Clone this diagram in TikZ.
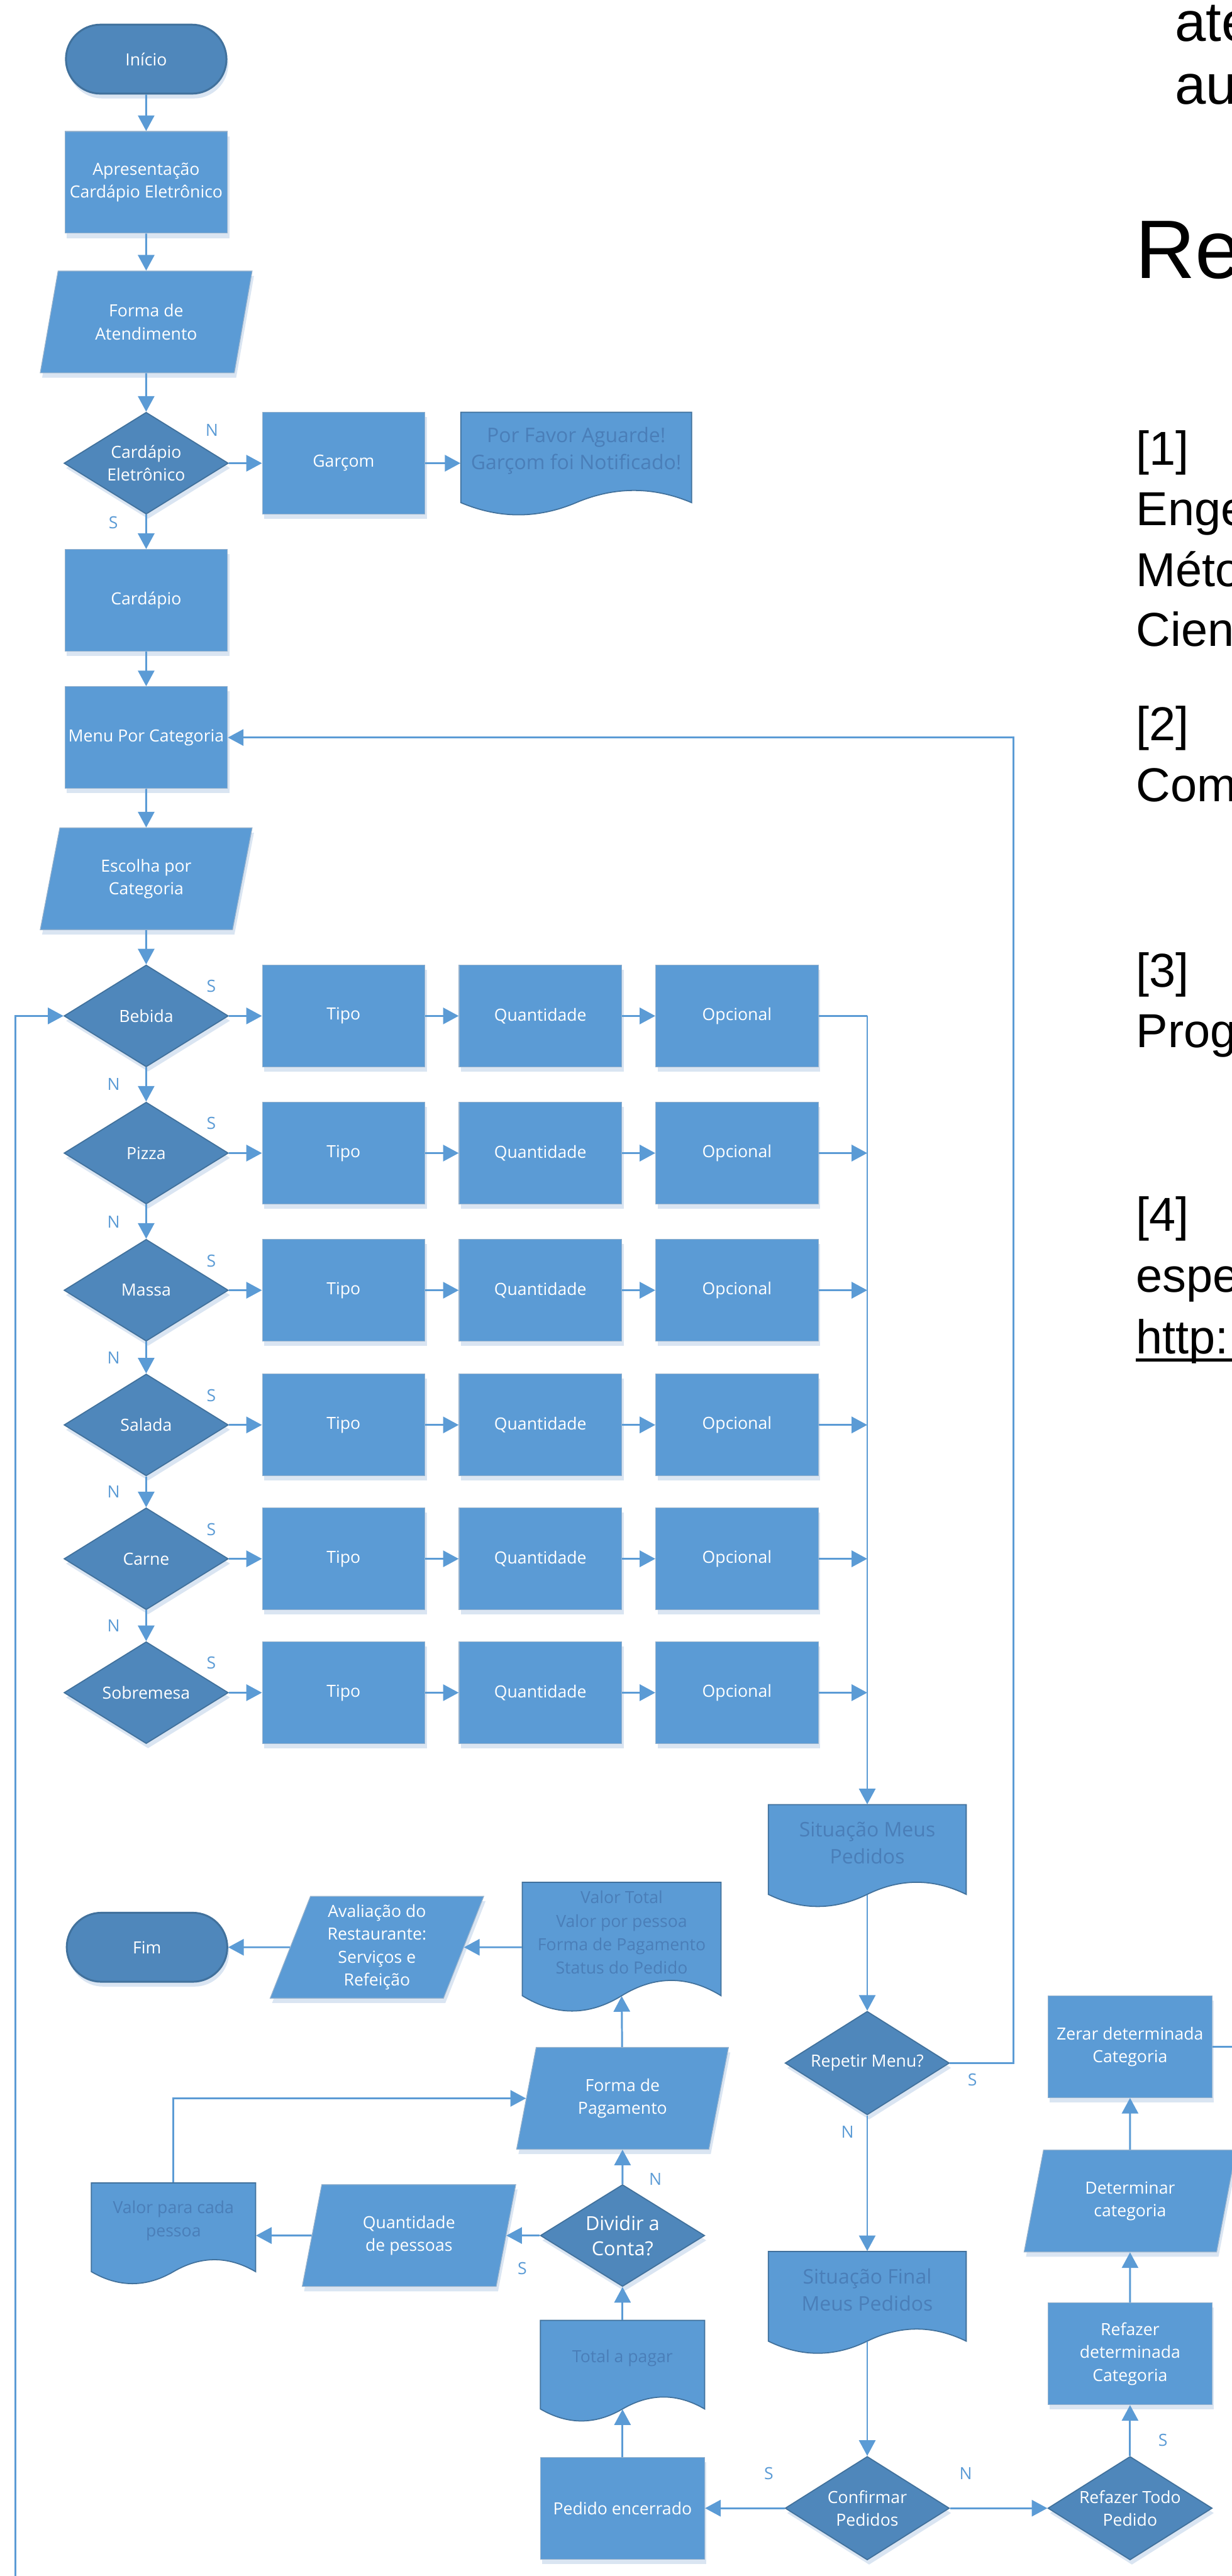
\documentclass[tikz,border=0pt]{standalone}
\usepackage{fontspec}
\setmainfont{Open Sans}
\newfontfamily\refsfont{Liberation Sans}
\usetikzlibrary{shapes.geometric,shapes.misc,shadows,arrows.meta}
\tikzset{>={Triangle[length=8.4pt,width=8.8pt]}}
\definecolor{procfill}{RGB}{91,155,213}
\definecolor{decfill}{RGB}{79,135,187}
\definecolor{decedge}{RGB}{65,113,156}
\definecolor{procedge}{RGB}{150,178,205}
\definecolor{shadowcol}{RGB}{218,229,242}
\definecolor{doctxt}{RGB}{74,126,184}
\colorlet{flowcol}{procfill}
\def\pxu{0.8828pt}
\tikzstyle{flow}=[->,flowcol,line width=1pt]
\tikzstyle{wire}=[flowcol,line width=1pt]
\tikzstyle{yesno}=[flowcol,font=\fontsize{9}{11}\selectfont,inner sep=0pt]
\tikzset{
  shapebase/.style={text=white,align=center,inner sep=1pt,
                    font=\fontsize{9}{12.3}\selectfont,
                    general shadow={fill=shadowcol,shadow xshift=1pt,shadow yshift=-2.6pt}},
  proc/.style={shapebase,rectangle,fill=procfill,draw=procedge,line width=0.4pt,
               minimum width=99*\pxu,minimum height=62*\pxu},
  io/.style={shapebase,trapezium,trapezium left angle=65.7,trapezium right angle=114.3,
             trapezium stretches body,fill=procfill,draw=procedge,line width=0.4pt,
             minimum width=129*\pxu,minimum height=62*\pxu},
  decision/.style={shapebase,diamond,aspect=1.6,inner sep=0pt,fill=decfill,draw=decedge,
                   line width=0.6pt,minimum width=100*\pxu,minimum height=62*\pxu},
  term/.style={shapebase,rounded rectangle,fill=decfill,draw=decedge,line width=1pt,
               minimum width=100*\pxu,minimum height=42*\pxu},
  doctext/.style={text=doctxt,align=center,inner sep=0pt,font=\fontsize{9}{12.6}\selectfont},
  docbig/.style={doctext,font=\fontsize{10.8}{14.5}\selectfont},
  refs/.style={anchor=base west,inner sep=0pt,text=black,font=\refsfont\fontsize{25.6}{30}\selectfont}
}
% document shape: name, x, y, width, side height, text style, text
\newcommand{\docnode}[7]{%
  \filldraw[fill=procfill,draw=decedge,line width=0.6pt,shift={(#2,#3)}]
    ({-#4/2},{-#5/2}) -- ({#4/2},{-#5/2}) -- ({#4/2},{#5/2})
    .. controls ({#4/3},{0.32*#5}) and ({#4/6},{0.32*#5}) .. (0,{#5/2})
    .. controls ({-#4/6},{0.68*#5}) and ({-#4/3},{0.68*#5}) .. ({-#4/2},{#5/2}) -- cycle;
  \node[rectangle,inner sep=0pt,minimum width=#4*\pxu,minimum height=#5*\pxu] (#1) at (#2,#3) {};
  \node[#6] (#1txt) at (#2,#3-4) {#7};
}

\begin{document}
\begin{tikzpicture}[x=\pxu,y=-\pxu]
  \def\xa{89}
  \def\xt{209.2}
  \def\xq{329}
  \def\xo{448.7}
  \def\xc{528}
  \def\xp{379}
  \def\xr{688}
  \useasboundingbox (0,0) rectangle (750,1568.3);
  \clip (0,0) rectangle (750,1568.3);

  % START
  \node[term] (inicio) at (\xa,36) {Início};
  \node[proc] (apres) at (\xa,111) {Apresentação\\Cardápio Eletrônico};
  \node[io] (formaAt) at (\xa,196) {Forma de\\Atendimento};
  \node[decision] (cardEl) at (\xa,282) {Cardápio\\Eletrônico};
  \node[proc] (garcom) at (\xt,282) {Garçom};
  \docnode{aguarde}{350.8}{278.5}{140.5}{55}{docbig}{Por Favor Aguarde!\\Garçom foi Notificado!}
  \node[proc] (cardapio) at (\xa,365.5) {Cardápio};
  \node[proc] (menu) at (\xa,449) {Menu Por Categoria};
  \node[io] (escolha) at (\xa,535) {Escolha por\\Categoria};

  \draw[flow] (inicio) -- (apres);
  \draw[flow] (apres) -- (formaAt);
  \draw[flow] (formaAt) -- (cardEl);
  \draw[flow] (cardEl) -- (garcom);
  \draw[flow] (garcom) -- (garcom -| aguarde.west);
  \draw[flow] (cardEl) -- (cardapio);
  \draw[flow] (cardapio) -- (menu);
  \draw[flow] (menu) -- (escolha);
  \node[yesno] (nCard) at (129,262) {N};
  \node[yesno] (sCard) at (69,318) {S};

  % CATEGORIES
  \foreach \cat/\yy [count=\k] in {Bebida/618.5,Pizza/702,Massa/785.5,Salada/867.5,Carne/949,Sobremesa/1030.5}{
    \node[decision] (cat\k) at (\xa,\yy) {\cat};
    \node[proc] (tipo\k) at (\xt,\yy) {Tipo};
    \node[proc] (qtd\k) at (\xq,\yy) {Quantidade};
    \node[proc] (opc\k) at (\xo,\yy) {Opcional};
    \draw[flow] (cat\k) -- (tipo\k);
    \draw[flow] (tipo\k) -- (qtd\k);
    \draw[flow] (qtd\k) -- (opc\k);
    \node[yesno] (s\k) at (128.6,\yy-18) {S};
  }
  \foreach \k [evaluate={\kn=int(\k+1);}] in {1,...,5}{
    \draw[flow] (cat\k) -- (cat\kn) node[yesno,midway,xshift=-19.8*\pxu] (n\k) {N};
  }
  \draw[flow] (escolha) -- (cat1);

  % ORDER STATUS
  \docnode{sit1}{\xc}{1126}{120.5}{54.6}{docbig}{Situação Meus\\Pedidos}
  \coordinate (colTop) at (\xc,618.5);
  \draw[wire] (opc1) -- (colTop);
  \draw[flow] (colTop) -- (sit1.north);
  \foreach \k in {2,...,6}
    \draw[flow] (opc\k) -- (opc\k -| colTop);

  \node[decision,minimum height=63*\pxu] (repetir) at (\xc,1256) {Repetir Menu?};
  \draw[flow] (sit1.south) -- (repetir);
  \coordinate (loopTop) at (617,449);
  \draw[flow] (repetir.east) -| (loopTop) -- (menu.east);
  \node[yesno] (sRep) at (592,1266) {S};
  \node[yesno] (nRep) at (516,1298) {N};

  \docnode{sit2}{\xc}{1398}{120.5}{54.6}{docbig}{Situação Final\\Meus Pedidos}
  \draw[flow] (repetir) -- (sit2.north);
  \node[decision,minimum height=63*\pxu] (confirmar) at (\xc,1527) {Confirmar\\Pedidos};
  \draw[flow] (sit2.south) -- (confirmar);
  \node[yesno] (sConf) at (468,1506) {S};
  \node[yesno] (nConf) at (588,1506) {N};

  % REDO BRANCH
  \node[decision,minimum height=63*\pxu] (refazerTodo) at (\xr,1527) {Refazer Todo\\Pedido};
  \node[proc,minimum width=100*\pxu] (refazerCat) at (\xr,1433) {Refazer\\determinada\\Categoria};
  \node[io] (determinar) at (\xr,1340) {Determinar\\categoria};
  \node[proc,minimum width=100*\pxu] (zerar) at (\xr,1246) {Zerar determinada\\Categoria};
  \coordinate (zerarOut) at (760,1246);
  \draw[flow] (confirmar) -- (refazerTodo);
  \draw[flow] (refazerTodo) -- (refazerCat);
  \draw[flow] (refazerCat) -- (determinar);
  \draw[flow] (determinar) -- (zerar);
  \draw[wire] (zerar) -- (zerarOut);
  \node[yesno] (sRef) at (708,1485.5) {S};

  % PAYMENT
  \node[proc,minimum width=100*\pxu] (pedidoEnc) at (\xp,1527) {Pedido encerrado};
  \docnode{totalPagar}{\xp}{1439.6}{100}{54}{doctext}{Total a pagar}
  \node[decision,font=\fontsize{10.4}{13.5}\selectfont] (dividir) at (\xp,1361) {Dividir a\\Conta?};
  \node[io] (formaPag) at (\xp,1277.5) {Forma de\\Pagamento};
  \docnode{valorTotal}{378.5}{1180.5}{121}{69}{doctext}{Valor Total\\Valor por pessoa\\Forma de Pagamento\\Status do Pedido}
  \node[io,minimum width=130*\pxu] (avaliacao) at (229.5,1185.5) {Avaliação do\\Restaurante:\\Serviços e\\Refeição};
  \node[term] (fim) at (89.5,1185.5) {Fim};
  \node[io,minimum width=130*\pxu] (qtdPessoas) at (249,1361) {Quantidade\\de pessoas};
  \docnode{valorCada}{105.6}{1356}{100}{54}{doctext}{Valor para cada\\pessoa}

  \draw[flow] (confirmar) -- (pedidoEnc);
  \draw[flow] (pedidoEnc) -- (totalPagar.south);
  \draw[flow] (totalPagar.north) -- (dividir);
  \draw[flow] (dividir) -- (formaPag);
  \draw[flow] (formaPag) -- (valorTotal.south);
  \draw[flow] (valorTotal.west |- avaliacao) -- (avaliacao);
  \draw[flow] (avaliacao) -- (fim);
  \draw[flow] (dividir) -- (qtdPessoas);
  \draw[flow] (qtdPessoas) -- (qtdPessoas -| valorCada.east);
  \draw[flow] (valorCada.north) |- (formaPag);
  \node[yesno] (nDiv) at (399,1326.5) {N};
  \node[yesno] (sDiv) at (318,1381) {S};

  % BACK TO FIRST CATEGORY
  \coordinate (loopBot) at (9.4,1580);
  \draw[flow] (loopBot) |- (cat1);

  % PAGE TEXT
  \node[refs,font=\refsfont\fontsize{30}{36}\selectfont] (body1) at (715,24.9) {ate};
  \node[refs,font=\refsfont\fontsize{30}{36}\selectfont] (body2) at (715,63.3) {au};
  \node[refs,font=\refsfont\fontsize{44.6}{50}\selectfont] (head) at (691,169.6) {Re};
  \foreach \txt/\yy [count=\k] in {{[1]}/283,Enge/320,Méto/357,Cien/393.5,{[2]}/451,Com/488,
                                   {[3]}/601,Prog/637.6,{[4]}/749.5,espe/786.5,http:/824}{
    \node[refs] (ref\k) at (691.5,\yy) {\txt};
  }
  \draw[line width=1.6pt] (691.5,828) -- (760,828);
\end{tikzpicture}
\end{document}
